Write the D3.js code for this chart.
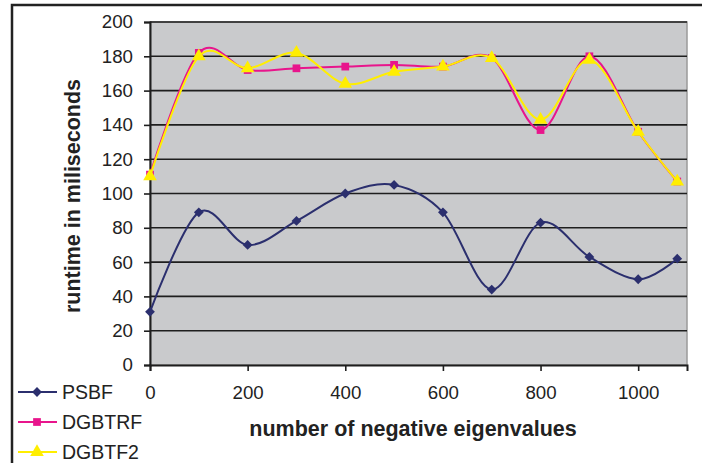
<!DOCTYPE html>
<html>
<head>
<meta charset="utf-8">
<script src="https://cdn.jsdelivr.net/npm/d3@7"></script>
<style>
  body { margin: 0; background: #fff; }
  text { font-family: "Liberation Sans", Arial, sans-serif; fill: #222; }
</style>
</head>
<body>
<div id="box"></div>
<script>
// chart data
var xValues = [0, 100, 200, 300, 400, 500, 600, 700, 800, 900, 1000, 1080];
var psbf    = [31, 89, 70, 84, 100, 105, 89, 44, 83, 63, 50, 62];
var dgbtrf  = [111, 182, 172, 173, 174, 175, 174, 179, 137, 180, 136, 107];
var dgbtf2  = [110, 180, 173, 182, 164, 171, 174, 179, 143, 178, 136, 107];
var seriesNames = ["PSBF", "DGBTRF", "DGBTF2"];
var xTicks = [0, 200, 400, 600, 800, 1000];
var yTicks = [0, 20, 40, 60, 80, 100, 120, 140, 160, 180, 200];

var width = 702, height = 463;
var svg = d3.select("#box").append("svg")
    .attr("width", width)
    .attr("height", height);

// outer frame
svg.append("rect")
    .attr("x", 12).attr("y", 5)
    .attr("width", 700).attr("height", 470)
    .attr("fill", "none")
    .attr("stroke", "#222")
    .attr("stroke-width", 2.5);

var plotLeft = 150, plotTop = 22, plotRight = 687, plotBottom = 365;

var x = d3.scaleLinear().domain([0, 1100]).range([plotLeft, plotRight]);
var y = d3.scaleLinear().domain([0, 200]).range([plotBottom, plotTop]);

// plot area
svg.append("rect")
    .attr("x", plotLeft).attr("y", plotTop)
    .attr("width", plotRight - plotLeft).attr("height", plotBottom - plotTop)
    .attr("fill", "#c9cacc")
    .attr("stroke", "#9a9a9a")
    .attr("stroke-width", 1.5);

// grid lines
svg.selectAll(".grid")
    .data(yTicks.slice(1))
    .enter().append("line")
    .attr("class", "grid")
    .attr("x1", plotLeft).attr("x2", plotRight)
    .attr("y1", function(d) { return y(d); })
    .attr("y2", function(d) { return y(d); })
    .attr("stroke", "#1e1e1e")
    .attr("stroke-width", 1.6);

// axes
var yAxis = svg.append("g")
    .attr("transform", "translate(" + plotLeft + ",0)")
    .call(d3.axisLeft(y).tickValues(yTicks).tickSize(6).tickPadding(11));
var xAxis = svg.append("g")
    .attr("transform", "translate(0," + plotBottom + ")")
    .call(d3.axisBottom(x).tickValues(xTicks).tickSize(6).tickPadding(15).tickFormat(d3.format("d")));

[yAxis, xAxis].forEach(function(a) {
    a.select(".domain").attr("stroke", "#1e1e1e").attr("stroke-width", 2);
    a.selectAll(".tick line").attr("stroke", "#1e1e1e").attr("stroke-width", 1.6);
    a.selectAll("text").attr("font-size", 18.7).attr("fill", "#222")
        .style("font-family", "'Liberation Sans', Arial, sans-serif");
});

// axis titles
svg.append("text")
    .attr("transform", "translate(80,196) rotate(-90)")
    .attr("text-anchor", "middle")
    .attr("font-size", 21.5)
    .attr("font-weight", "bold")
    .text("runtime in miliseconds");

svg.append("text")
    .attr("x", 413).attr("y", 436)
    .attr("text-anchor", "middle")
    .attr("font-size", 21.5)
    .attr("font-weight", "bold")
    .text("number of negative eigenvalues");

// diamond = square turned 45 degrees
var series = [
    { name: seriesNames[0], values: psbf,   color: "#2b2f6e", marker: d3.symbolSquare,   size: 48, rot: 45 },
    { name: seriesNames[1], values: dgbtrf, color: "#e8158c", marker: d3.symbolSquare,   size: 60, rot: 0 },
    { name: seriesNames[2], values: dgbtf2, color: "#ffee00", marker: d3.symbolTriangle, size: 80, rot: 0 }
];

var line = d3.line()
    .x(function(d) { return x(d[0]); })
    .y(function(d) { return y(d[1]); })
    .curve(d3.curveCardinal.tension(0));

series.forEach(function(s) {
    var pts = xValues.map(function(v, i) { return [v, s.values[i]]; });
    svg.append("path")
        .datum(pts)
        .attr("d", line)
        .attr("fill", "none")
        .attr("stroke", s.color)
        .attr("stroke-width", 2);
    svg.selectAll(null)
        .data(pts)
        .enter().append("path")
        .attr("d", d3.symbol().type(s.marker).size(s.size))
        .attr("transform", function(d) {
            return "translate(" + x(d[0]) + "," + y(d[1]) + ") rotate(" + s.rot + ")";
        })
        .attr("fill", s.color);
});

// legend
var legend = svg.selectAll(".legend")
    .data(series)
    .enter().append("g")
    .attr("class", "legend")
    .attr("transform", function(d, i) { return "translate(18," + (392 + i * 30) + ")"; });

legend.append("line")
    .attr("x1", 0).attr("x2", 39)
    .attr("stroke", function(d) { return d.color; })
    .attr("stroke-width", 2);
legend.append("path")
    .attr("d", function(d) { return d3.symbol().type(d.marker).size(d.size)(); })
    .attr("transform", function(d) { return "translate(19,0) rotate(" + d.rot + ")"; })
    .attr("fill", function(d) { return d.color; });
legend.append("text")
    .attr("x", 44).attr("y", 7)
    .attr("font-size", 19.5)
    .text(function(d) { return d.name; });
</script>
</body>
</html>
